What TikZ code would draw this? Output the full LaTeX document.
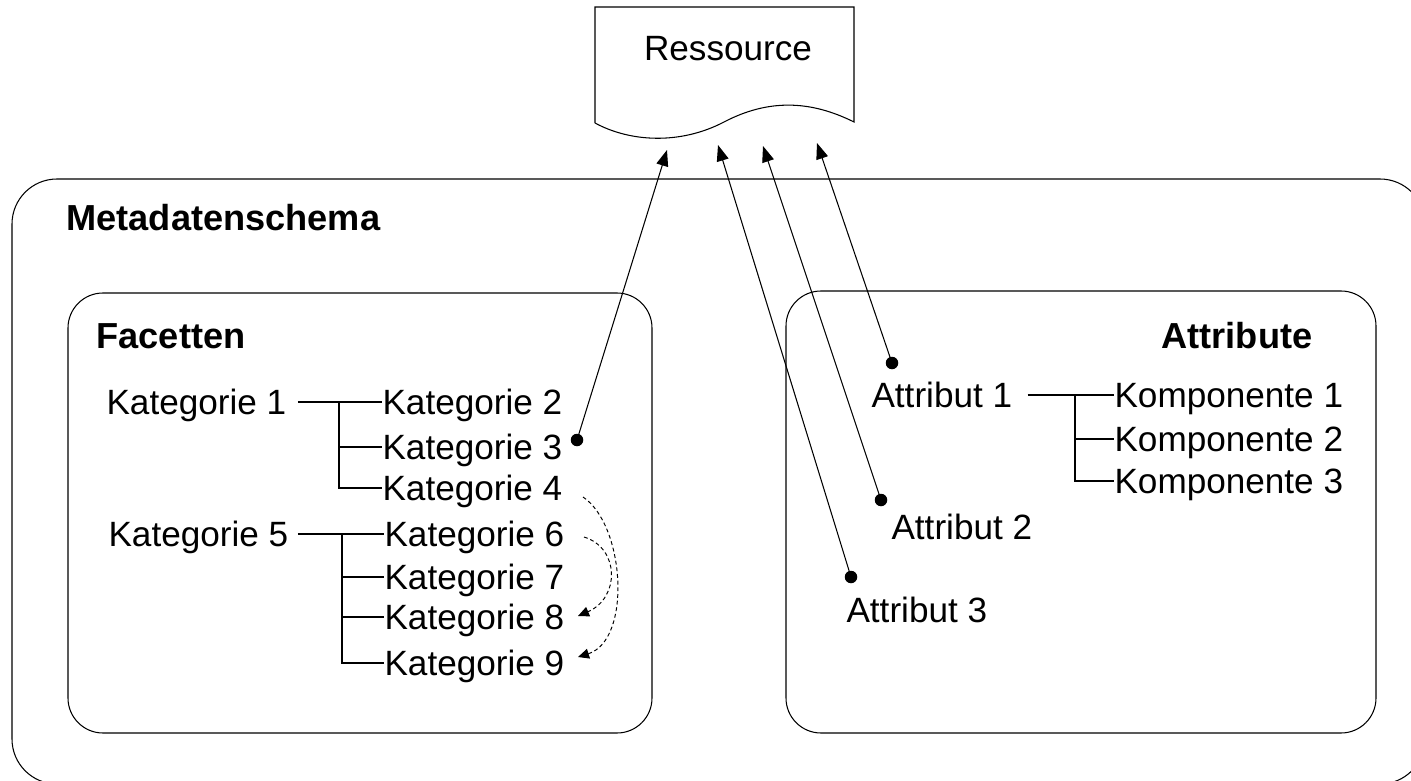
\documentclass[tikz,border=0pt]{standalone}
\usepackage{fontspec}
\setmainfont{Liberation Sans}
\usetikzlibrary{calc, positioning, arrows.meta}

\tikzset{
  lbl/.style={font=\fontsize{20}{24}\selectfont, inner sep=0, text height=18.3pt, text depth=4pt, anchor=west},
  heading/.style={lbl, font=\fontsize{20.6}{24}\selectfont\bfseries},
  bullet/.style={circle, fill=black, inner sep=0, minimum size=0.25cm},
  link/.style={line width=0.6pt, -{Triangle[length=0.32cm, width=0.24cm]}},
  hop/.style={line width=0.55pt, dash pattern=on 2.2pt off 1.6pt, -{Triangle[length=0.22cm, width=0.2cm]}}
}

\begin{document}
\begin{tikzpicture}[x=0.02cm, y=-0.02cm, line width=0.6pt]
  \useasboundingbox (0,0) rectangle (1411,781);
  % Ressource
  \draw (595,123) -- (595,7) -- (854,7) -- (854,122)
        .. controls (810,100) and (768,99) .. (724,122)
        .. controls (680,145) and (630,142) .. (595,123);
  \node[lbl, anchor=center] (res) at (728,48) {Ressource};
  % Frames
  \draw[rounded corners=0.9cm] (12,179) rectangle (1425,784);
  \draw[rounded corners=0.7cm] (68,293) rectangle (652,733);
  \draw[rounded corners=0.7cm] (786,291) rectangle (1376,733);
  \node[heading] (meta) at (66,218) {Metadatenschema};
  \node[heading] (fac) at (96,336) {Facetten};
  \node[heading] (att) at (1161,336) {Attribute};
  % Facetten
  \node[lbl] (k1) at (106,402) {Kategorie 1};
  \node[lbl] (k2) at (382,402) {Kategorie 2};
  \node[lbl] (k3) at (382,447) {Kategorie 3};
  \node[lbl] (k4) at (382,488) {Kategorie 4};
  \node[lbl] (k5) at (108,534) {Kategorie 5};
  \node[lbl] (k6) at (384,534) {Kategorie 6};
  \node[lbl] (k7) at (384,577) {Kategorie 7};
  \node[lbl] (k8) at (384,617) {Kategorie 8};
  \node[lbl] (k9) at (384,663) {Kategorie 9};
  \coordinate (j1) at (339,402);
  \coordinate (j5) at (342,534);
  \draw ($(k1.east)+(11,0)$) -- (k2.west);
  \draw (j1) |- (k3.west);
  \draw (j1) |- (k4.west);
  \draw ($(k5.east)+(9,0)$) -- (k6.west);
  \draw (j5) |- (k7.west);
  \draw (j5) |- (k8.west);
  \draw (j5) |- (k9.west);
  % Attribute
  \node[lbl] (a1) at (871,395) {Attribut 1};
  \node[lbl] (a2) at (891,527) {Attribut 2};
  \node[lbl] (a3) at (846,610) {Attribut 3};
  \node[lbl] (c1) at (1114,395) {Komponente 1};
  \node[lbl] (c2) at (1114,439) {Komponente 2};
  \node[lbl] (c3) at (1114,481) {Komponente 3};
  \coordinate (j2) at (1075,395);
  \draw ($(a1.east)+(15,0)$) -- (c1.west);
  \draw (j2) |- (c2.west);
  \draw (j2) |- (c3.west);
  % Links to the Ressource
  \node[bullet] (b1) at (577,440) {};
  \node[bullet] (b2) at (851,577) {};
  \node[bullet] (b3) at (881,500) {};
  \node[bullet] (b4) at (892,363) {};
  \coordinate (t1) at (667,150);
  \coordinate (t2) at (718,145);
  \coordinate (t3) at (763,146);
  \coordinate (t4) at (817,143);
  \draw[link] (b1.center) -- (t1);
  \draw[link] (b2.center) -- (t2);
  \draw[link] (b3.center) -- (t3);
  \draw[link] (b4.center) -- (t4);
  % Dashed references
  \coordinate (s4) at (583,497);
  \coordinate (e9) at (578,657);
  \coordinate (s6) at (584,537);
  \coordinate (e8) at (578,616);
  \draw[hop] (s4) .. controls (625,525) and (632,640) .. (e9);
  \draw[hop] (s6) .. controls (620,548) and (620,598) .. (e8);
\end{tikzpicture}
\end{document}
